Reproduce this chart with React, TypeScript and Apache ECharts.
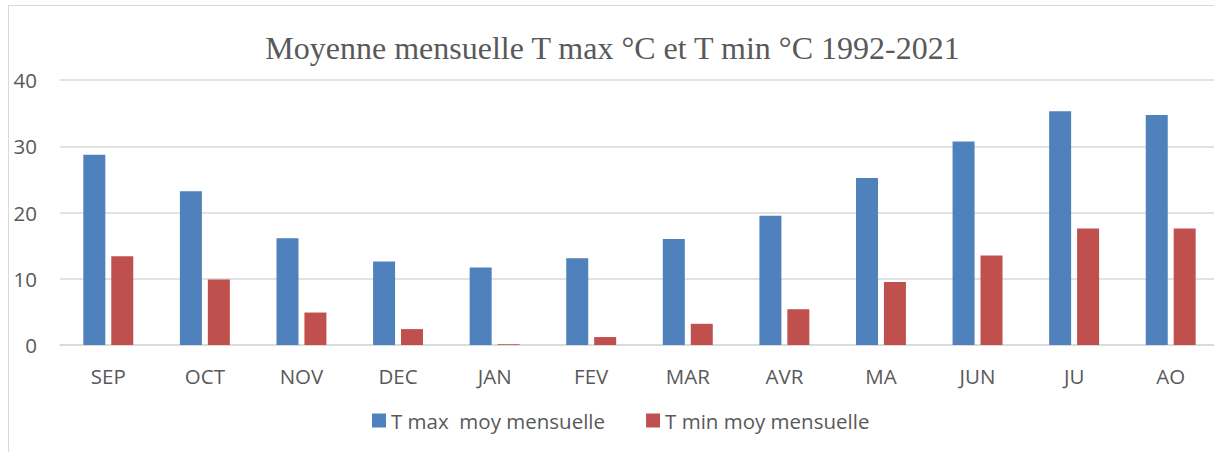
import React, { useEffect, useRef } from "react";
import * as echarts from "echarts";

const titleText = "Moyenne mensuelle T max °C et T min °C 1992-2021";
const months = ["SEP", "OCT", "NOV", "DEC", "JAN", "FEV", "MAR", "AVR", "MA", "JUN", "JU", "AO"];
const tMax = [28.7, 23.2, 16.1, 12.6, 11.7, 13.1, 16.0, 19.5, 25.2, 30.7, 35.3, 34.7];
const tMin = [13.4, 9.9, 4.9, 2.4, 0.1, 1.2, 3.2, 5.4, 9.5, 13.5, 17.6, 17.6];
const seriesNames = ["T max  moy mensuelle", "T min moy mensuelle"];
const yTicks = { min: 0, max: 40, interval: 10 };

const TEXT = "#595959";
const SANS = "'Open Sans', 'Noto Sans', sans-serif";

export default function App() {
  const ref = useRef<HTMLDivElement>(null);
  useEffect(() => {
    if (!ref.current) return;
    const chart = echarts.init(ref.current, undefined, { renderer: "svg" });
    chart.setOption({
      animation: false,
      backgroundColor: "transparent",
      title: {
        text: titleText,
        left: "center",
        top: 27,
        textStyle: {
          fontFamily: "'Liberation Serif', 'Times New Roman', serif",
          fontSize: 32,
          fontWeight: "normal",
          color: TEXT,
        },
      },
      legend: {
        left: 367,
        top: 405,
        itemWidth: 14,
        itemHeight: 14,
        itemGap: 41,
        icon: "rect",
        textStyle: { fontFamily: SANS, fontSize: 20.5, color: TEXT },
        data: seriesNames,
      },
      grid: { left: 60, right: 6, top: 80, bottom: 107 },
      xAxis: {
        type: "category",
        data: months,
        axisLine: { show: true, lineStyle: { color: "#d9d9d9", width: 1.5 } },
        axisTick: { show: false },
        axisLabel: { fontFamily: SANS, fontSize: 20.5, color: TEXT, margin: 20 },
      },
      yAxis: {
        type: "value",
        min: yTicks.min,
        max: yTicks.max,
        interval: yTicks.interval,
        axisLine: { show: false },
        axisTick: { show: false },
        splitLine: { lineStyle: { color: "#d9d9d9", width: 1.5 } },
        axisLabel: { fontFamily: SANS, fontSize: 20.5, color: TEXT, margin: 23 },
      },
      series: [
        {
          name: seriesNames[0],
          type: "bar",
          data: tMax,
          barWidth: 22,
          barGap: "27%",
          itemStyle: { color: "#4F81BD" },
        },
        {
          name: seriesNames[1],
          type: "bar",
          data: tMin,
          barWidth: 22,
          barGap: "27%",
          itemStyle: { color: "#C0504D" },
        },
      ],
    });
    return () => chart.dispose();
  }, []);

  return (
    <div style={{ position: "absolute", left: 0, top: 0, width: 1214, height: 452, overflow: "hidden", background: "#fff" }}>
      <div
        style={{
          position: "absolute",
          left: 8,
          top: 5,
          width: 1209,
          height: 470,
          border: "1.5px solid #d9d9d9",
          boxSizing: "border-box",
        }}
      />
      <div ref={ref} style={{ position: "absolute", left: 0, top: 0, width: 1225, height: 452 }} />
    </div>
  );
}
